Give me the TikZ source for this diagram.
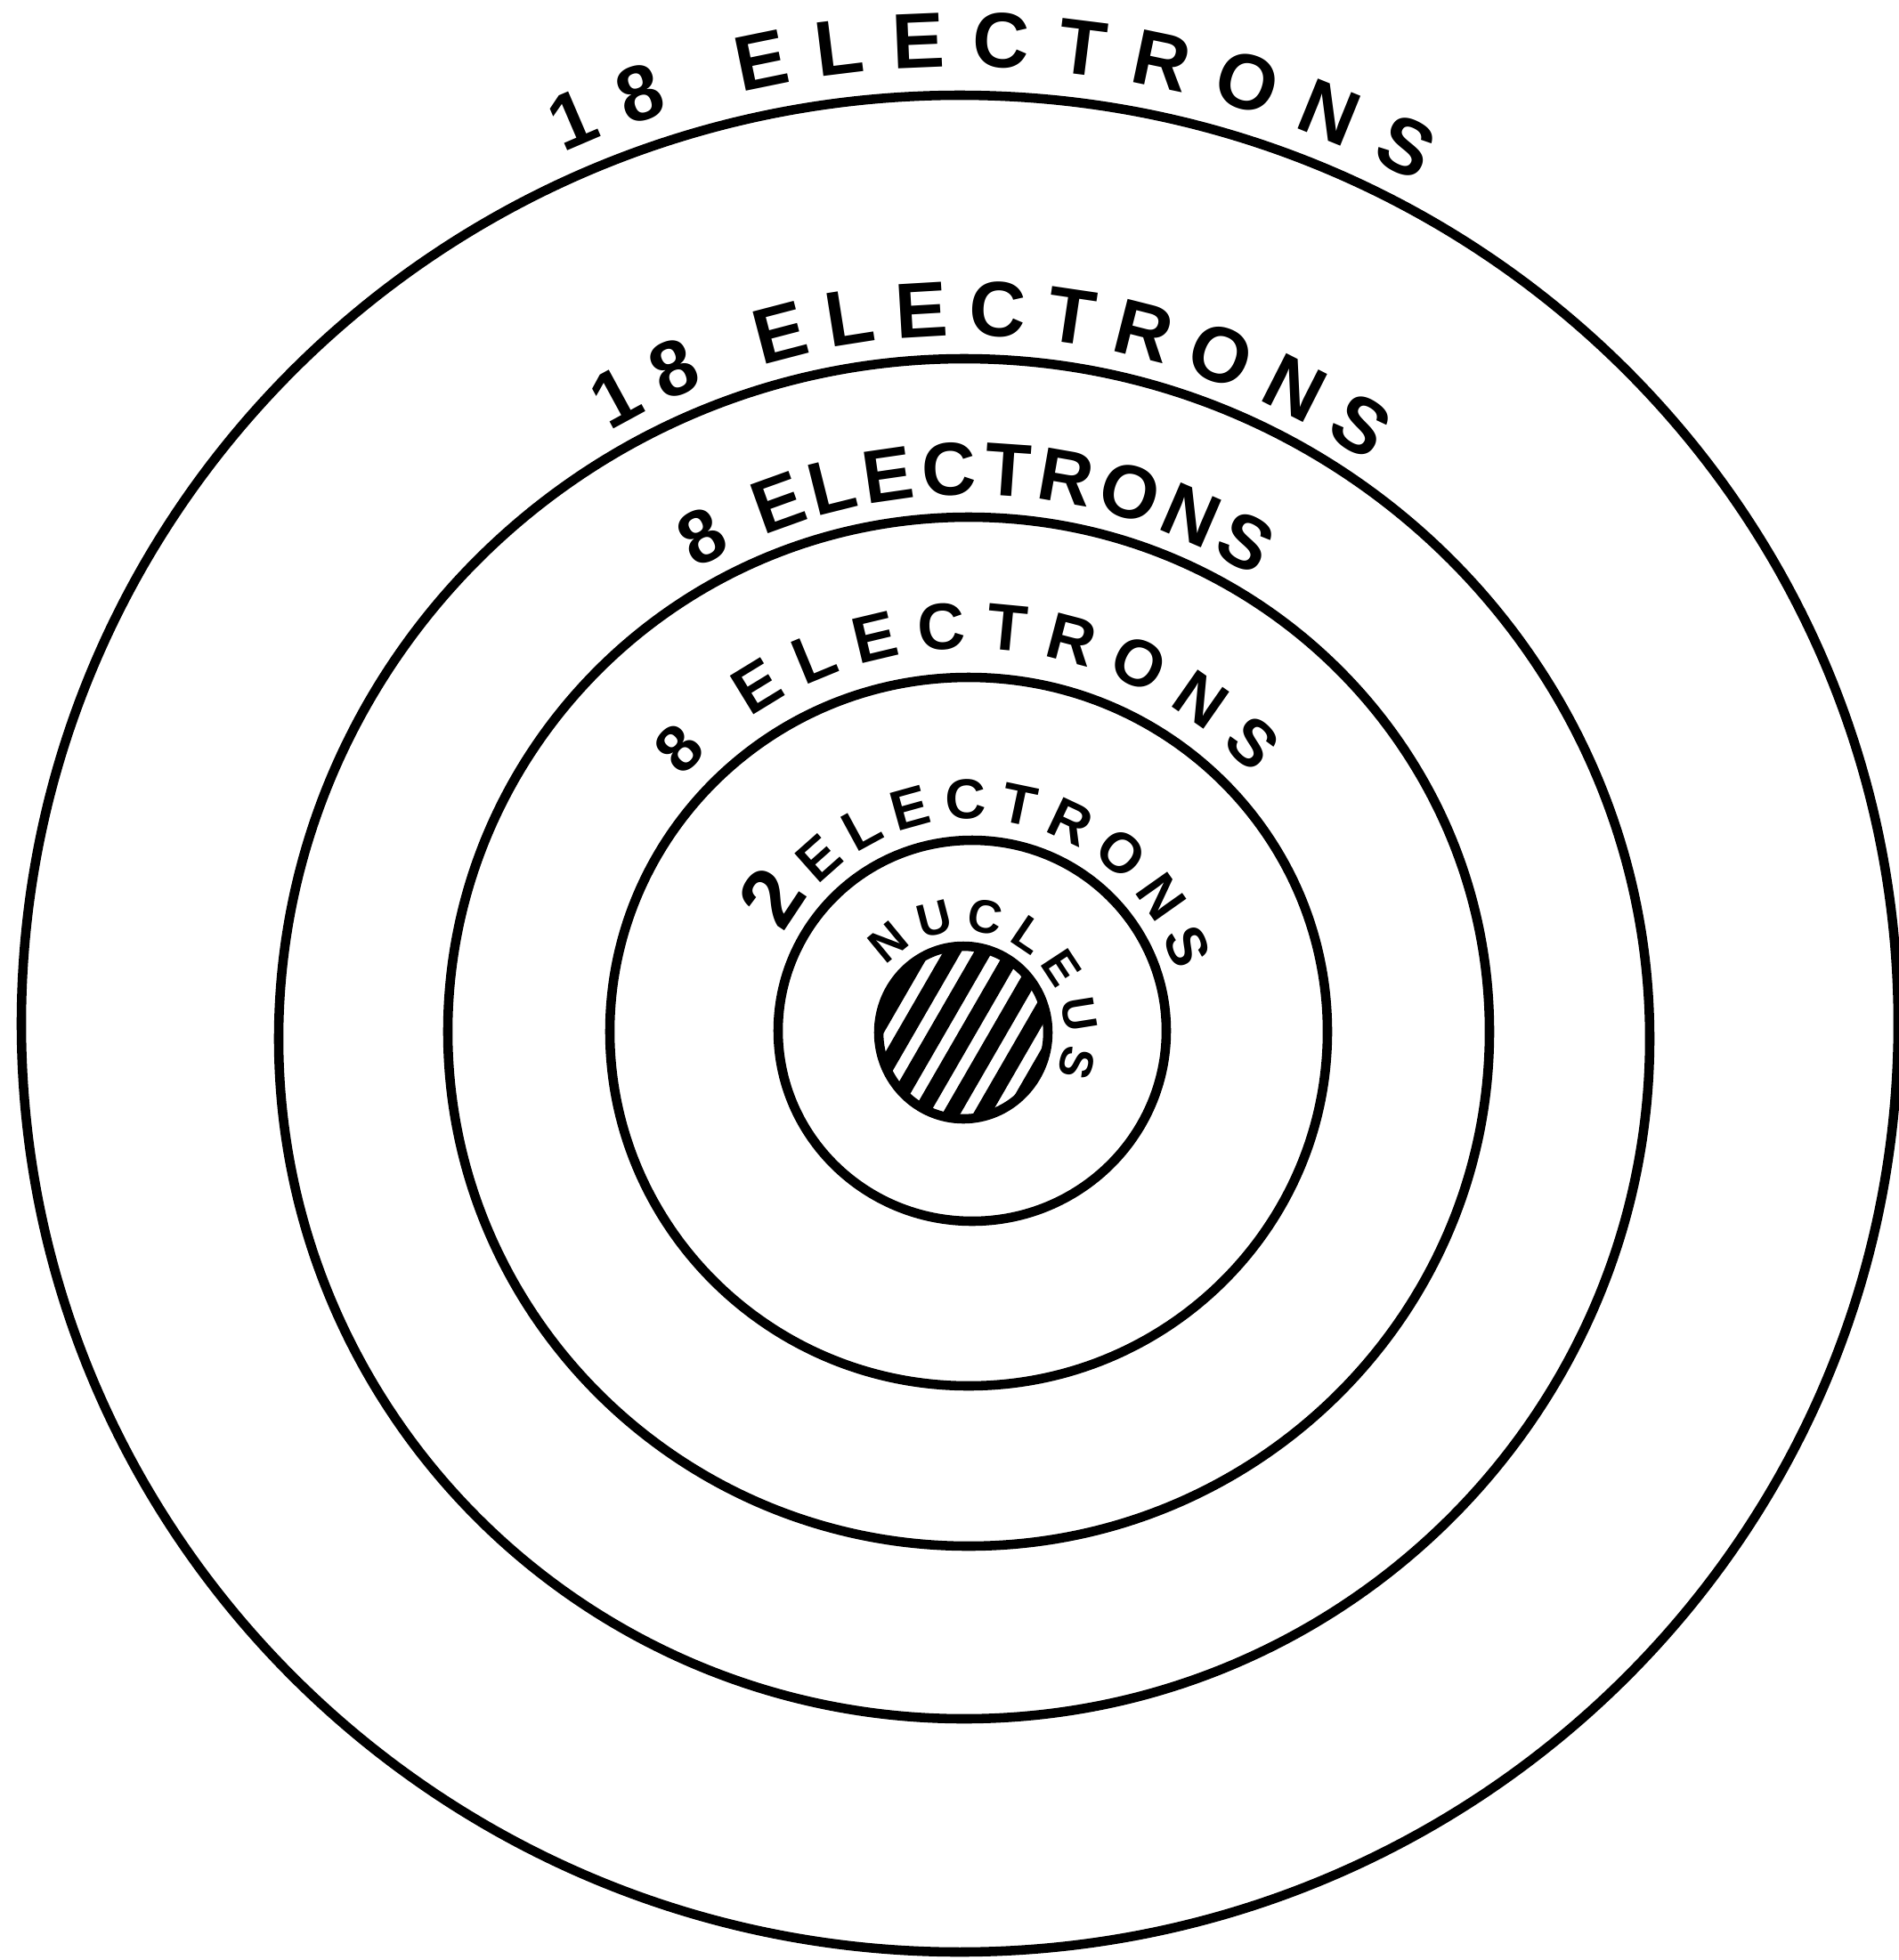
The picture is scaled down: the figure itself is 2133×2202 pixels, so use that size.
\documentclass[tikz,border=0pt]{standalone}
\usepackage{fontspec}
\setmainfont{Liberation Sans}
\usetikzlibrary{decorations.text}
\begin{document}
\begin{tikzpicture}[x=0.01cm,y=0.01cm,
  orbit/.style={line width=3pt},
  hatch/.style={line width=5pt},
  lbl/.style={decorate, decoration={text along path, text align=fit to path, text={#1}}}]
\useasboundingbox (0,-2202) rectangle (2133,0);
\coordinate (c1) at (1078,-1150);
\coordinate (c2) at (1083,-1167);
\coordinate (c3) at (1088,-1159);
\coordinate (c4) at (1088,-1159);
\coordinate (c5) at (1092,-1158);
\coordinate (n) at (1082,-1160);
% orbits
\draw[orbit] (c1) ellipse [x radius=1054, y radius=1043];
\draw[orbit] (c2) ellipse [x radius=770, y radius=764];
\draw[orbit] (c3) ellipse [x radius=585, y radius=578];
\draw[orbit] (c4) ellipse [x radius=403, y radius=398];
\draw[orbit] (c5) ellipse [x radius=218, y radius=214];
% nucleus
\begin{scope}[shift={(1082,-1160)}]
  \clip (0,0) circle [radius=95];
  \begin{scope}[rotate=-30]
    \foreach \i in {-3,...,3} \draw[hatch] (\i*30+4,-130) -- (\i*30+4,130);
  \end{scope}
\end{scope}
\draw[orbit] (n) ellipse [x radius=95, y radius=97];
% labels
\path[lbl={|\bfseries\fontsize{25}{30}\selectfont|18 ELECTRONS}] (c1) ++(114.5:1075) arc[start angle=114.5, end angle=61.5, radius=1075];
\path[lbl={|\bfseries\fontsize{25}{30}\selectfont|18 ELECTRONS}] (c2) ++(120.3:790) arc[start angle=120.3, end angle=55, radius=790];
\path[lbl={|\bfseries\fontsize{24}{30}\selectfont|8 ELECTRONS}] (c3) ++(120.5:603) arc[start angle=120.5, end angle=57.8, radius=603];
\path[lbl={|\bfseries\fontsize{21}{26}\selectfont|8 ELECTRONS}] (c4) ++(138.4:430) arc[start angle=138.4, end angle=42.2, radius=430];
\path[lbl={|\bfseries\fontsize{27}{30}\selectfont|2|\bfseries\fontsize{18}{24}\selectfont|ELECTRONS}] (c5) ++(152.7:238) arc[start angle=152.7, end angle=16.3, radius=238];
\path[lbl={|\bfseries\fontsize{15}{18}\selectfont|NUCLEUS}] (n) ++(139:114) arc[start angle=139, end angle=-24, radius=114];
\end{tikzpicture}
\end{document}
